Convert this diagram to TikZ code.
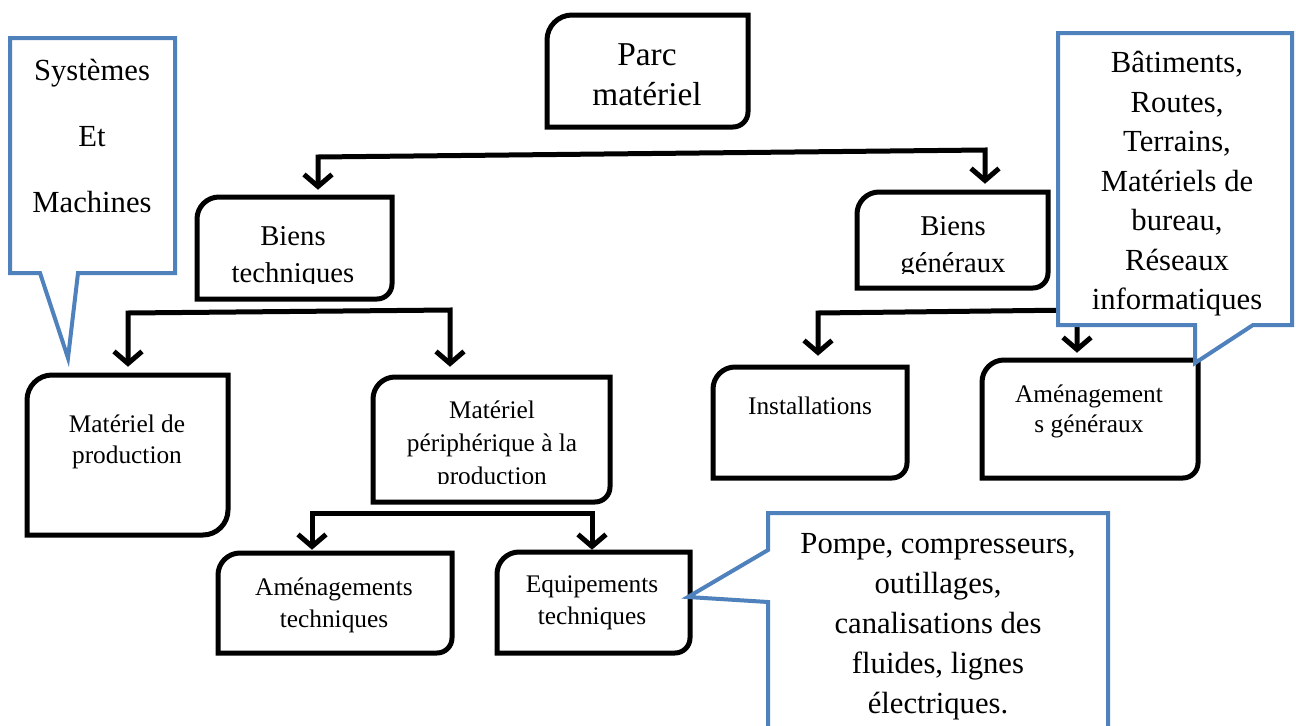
\documentclass[tikz,border=0pt]{standalone}
\usepackage{fontspec}
\setmainfont{Liberation Serif}
\usetikzlibrary{arrows.meta,calc,fit}
\definecolor{calloutblue}{HTML}{4F81BD}

% box with rounded top-left (r1) and bottom-right (r2) corners
% #1 name, #2 x1, #3 y1, #4 x2, #5 y2, #6 r1, #7 r2
\newcommand\diagbox[7]{%
  \draw[boxline] ({#2},{#3+#6}) .. controls ({#2},{#3+0.45*#6}) and ({#2+0.45*#6},{#3}) .. ({#2+#6},{#3})
    -- ({#4},{#3}) -- ({#4},{#5-#7})
    .. controls ({#4},{#5-0.45*#7}) and ({#4-0.45*#7},{#5}) .. ({#4-#7},{#5})
    -- ({#2},{#5}) -- cycle;
  \path ({#2},{#3}) coordinate (#1-nw) ({#4},{#5}) coordinate (#1-se);
  \node[fit=(#1-nw)(#1-se), inner sep=0pt] (#1) {};
}

\tikzset{
  boxline/.style={draw=black, line width=3.75pt, fill=white},
  callout/.style={draw=calloutblue, line width=3pt, fill=white},
  conn/.style={draw=black, line width=3.75pt,
    {Straight Barb[length=9pt,width=21pt]}-{Straight Barb[length=9pt,width=21pt]}},
  txt/.style={align=center, inner sep=0pt, anchor=north},
  parcfont/.style={txt, font=\fontsize{25}{30}\selectfont},
  midfont/.style={txt, font=\fontsize{21.5}{27.75}\selectfont},
  smallfont/.style={txt, font=\fontsize{19}{23.25}\selectfont},
  notefont/.style={txt, font=\fontsize{23}{29.6}\selectfont},
}

\begin{document}
\begin{tikzpicture}[x=0.75pt, y=-0.75pt]
\fill[white] (0,0) rectangle (1296,725);
\clip (0,0) rectangle (1296,725);

% bar coordinates of the tree connectors
\coordinate (b1L) at (318,157);
\coordinate (b1R) at (985,150);
\coordinate (b2L) at (128,313);
\coordinate (b2R) at (450,310);
\coordinate (b3L) at (818,313);
\coordinate (b3R) at (1077,310);
\coordinate (b4L) at (312,513);
\coordinate (b4R) at (592,513);

% boxes
\diagbox{parc}{547}{15}{748}{127}{25}{15}
\diagbox{bt}{197}{197}{392}{299}{22}{15}
\diagbox{bg}{857}{192}{1048}{288}{22}{15}
\diagbox{mp}{27}{375}{228}{535}{25}{25}
\diagbox{mpp}{373}{377}{610}{502}{22}{15}
\diagbox{ins}{713}{367}{907}{478}{22}{15}
\diagbox{ag}{982}{360}{1198}{478}{22}{15}
\diagbox{at}{218}{553}{452}{653}{22}{15}
\diagbox{et}{497}{552}{690}{653}{22}{15}

% connectors
\draw[conn] ($(b1L |- bt.north)+(0,-7)$) -- (b1L) -- (b1R) -- ($(b1R |- bg.north)+(0,-8)$);
\draw[conn] ($(b2L |- mp.north)+(0,-8)$) -- (b2L) -- (b2R) -- ($(b2R |- mpp.north)+(0,-10)$);
\draw[conn] ($(b3L |- ins.north)+(0,-11)$) -- (b3L) -- (b3R) -- ($(b3R |- ag.north)+(0,-7)$);
\draw[conn] ($(b4L |- at.north)+(0,-3)$) -- (b4L) -- (b4R) -- ($(b4R |- et.north)+(0,-2)$);

% box texts
\node[parcfont] (tparc) at (647,37) {\strut Parc\\mat\'eriel};
\begin{scope}
  \clip (200,200) rectangle (389,283);
  \node[midfont] (tbt) at (293,219) {\strut Biens\\techniques};
\end{scope}
\begin{scope}
  \clip (860,195) rectangle (1045,273);
  \node[midfont] (tbg) at (953,209) {\strut Biens\\g\'en\'eraux};
\end{scope}
\node[smallfont] (tmp) at (127,411) {\strut Mat\'eriel de\\production};
\begin{scope}
  \clip (376,380) rectangle (607,483);
  \node[smallfont, font=\fontsize{19}{24.75}\selectfont] (tmpp) at (492,395) {\strut Mat\'eriel\\p\'eriph\'erique \`a la\\production};
\end{scope}
\node[smallfont] (tins) at (810,393) {\strut Installations};
\node[smallfont, font=\fontsize{19}{22.5}\selectfont] (tag) at (1089,381) {\strut Am\'enagement\\s g\'en\'eraux};
\node[smallfont, font=\fontsize{19}{24}\selectfont] (tat) at (334,573) {\strut Am\'enagements\\techniques};
\node[smallfont, font=\fontsize{19}{24}\selectfont] (tet) at (592,570) {\strut Equipements\\techniques};

% callouts
\draw[callout] (10,38) -- (175,38) -- (175,273) -- (78,273) -- (68,358) -- (40,273) -- (10,273) -- cycle;
\node[notefont, font=\fontsize{23}{49.5}\selectfont] (nsys) at (92,34) {\strut Syst\`emes\\Et\\Machines};

\draw[callout] (1058,33) -- (1292,33) -- (1292,325) -- (1253,325) -- (1195,363) -- (1195,325) -- (1058,325) -- cycle;
\node[notefont] (nbat) at (1177,45) {\strut B\^atiments,\\Routes,\\Terrains,\\Mat\'eriels de\\bureau,\\R\'eseaux\\informatiques};

\draw[callout] (768,550) -- (768,513) -- (1108,513) -- (1108,740) -- (768,740) -- (768,602) -- (688,597) -- cycle;
\node[notefont, font=\fontsize{23}{30}\selectfont] (npom) at (938,525) {\strut Pompe, compresseurs,\\outillages,\\canalisations des\\fluides, lignes\\\'electriques.};
\end{tikzpicture}
\end{document}
